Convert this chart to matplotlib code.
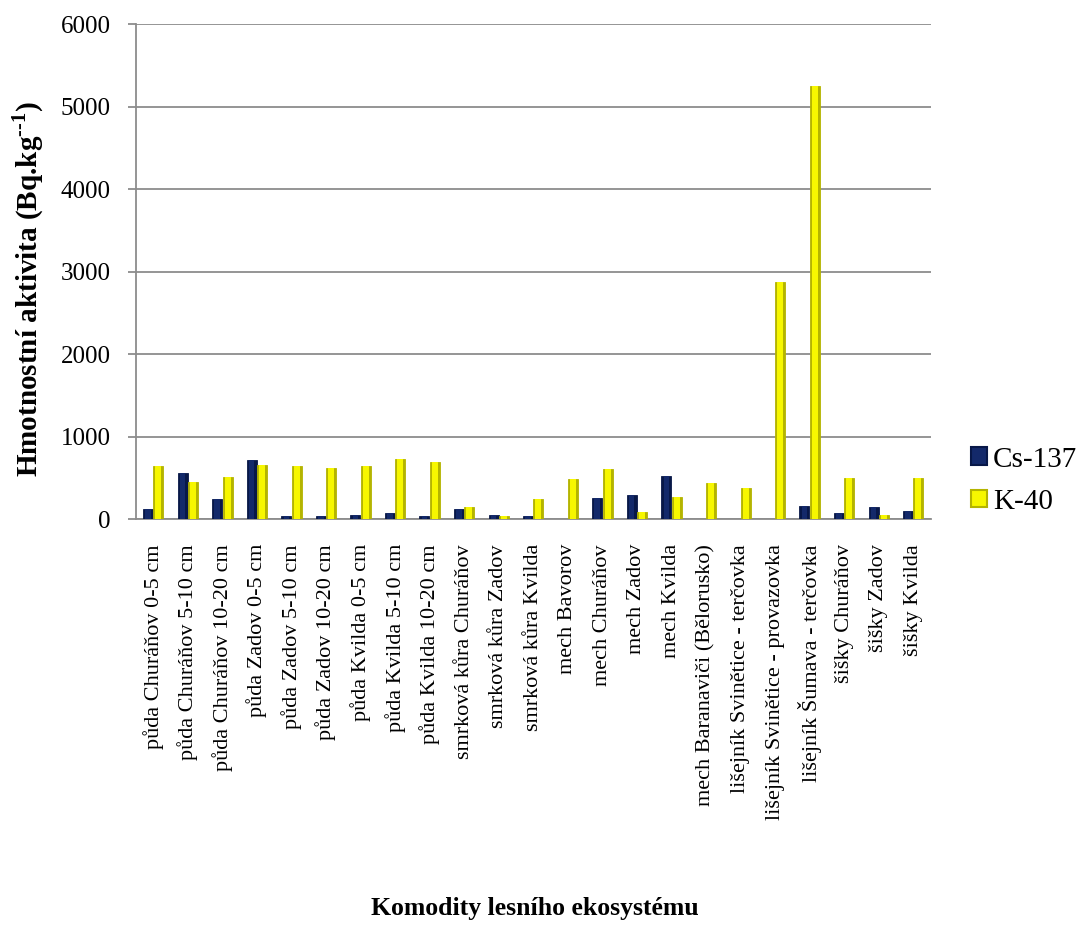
import numpy as np
import matplotlib
matplotlib.use("Agg")
import matplotlib.pyplot as plt
from matplotlib.patches import Patch

# Komodity lesního ekosystému a naměřené hmotnostní aktivity (Bq/kg)
categories = [
    "půda Churáňov 0-5 cm",
    "půda Churáňov 5-10 cm",
    "půda Churáňov 10-20 cm",
    "půda Zadov 0-5 cm",
    "půda Zadov 5-10 cm",
    "půda Zadov 10-20 cm",
    "půda Kvilda 0-5 cm",
    "půda Kvilda 5-10 cm",
    "půda Kvilda 10-20 cm",
    "smrková kůra Churáňov",
    "smrková kůra Zadov",
    "smrková kůra Kvilda",
    "mech Bavorov",
    "mech Churáňov",
    "mech Zadov",
    "mech Kvilda",
    "mech Baranaviči (Bělorusko)",
    "lišejník Svinětice - terčovka",
    "lišejník Svinětice - provazovka",
    "lišejník Šumava - terčovka",
    "šišky Churáňov",
    "šišky Zadov",
    "šišky Kvilda",
]
cs137 = [125, 560, 245, 712, 40, 36, 53, 77, 36, 125, 53, 32,
         0, 250, 287, 518, 0, 0, 0, 158, 77, 150, 93]
k40 = [644, 449, 514, 660, 644, 623, 644, 729, 692, 150, 32, 239,
       486, 611, 89, 263, 441, 377, 2870, 5255, 498, 53, 502]
series_names = ["Cs-137", "K-40"]
y_ticks = [0, 1000, 2000, 3000, 4000, 5000, 6000]

plt.rcParams["font.family"] = ["Liberation Serif", "DejaVu Serif"]
plt.rcParams["mathtext.fontset"] = "custom"
plt.rcParams["mathtext.rm"] = "Liberation Serif"
plt.rcParams["mathtext.bf"] = "Liberation Serif:bold"

fig = plt.figure(figsize=(10.81, 9.26), dpi=100)
ax = fig.add_axes([0.1258, 0.4395, 0.735, 0.5345])

x = np.arange(len(categories))
w = 0.29
off = 0.15

grid_col = "#8c8c8c"
cs_dark, cs_main = "#081848", "#13296a"
k_dark, k_main = "#b4b400", "#f7f700"

# outer bars (darker bevel edge) and inner lighter faces
ax.bar(x - off, cs137, width=w, color=cs_dark, edgecolor=cs_dark,
       linewidth=0.6, zorder=3)
ax.bar(x - off, cs137, width=w * 0.55, color=cs_main, linewidth=0, zorder=4)
ax.bar(x + off, k40, width=w, color=k_dark, edgecolor=k_dark,
       linewidth=0.6, zorder=3)
ax.bar(x + off, k40, width=w * 0.6, color=k_main, linewidth=0, zorder=4)

ax.set_xlim(-0.5, len(categories) - 0.5)
ax.set_ylim(0, 6000)
ax.set_yticks(y_ticks)
ax.set_yticklabels([str(v) for v in y_ticks], fontsize=18)
ax.yaxis.grid(True, color=grid_col, linewidth=1.3, zorder=0)
ax.set_axisbelow(True)

for s in ("top", "right"):
    ax.spines[s].set_visible(False)
for s in ("left", "bottom"):
    ax.spines[s].set_color(grid_col)
    ax.spines[s].set_linewidth(1.3)

ax.tick_params(axis="y", length=6, width=1.3, color=grid_col, pad=12)
ax.tick_params(axis="x", length=0, pad=18)
ax.set_xticks(x)
ax.set_xticklabels(categories, rotation=90, fontsize=16, ha="center", va="top")

fig.text(0.026, 1 - 289 / 926,
         "Hmotnostní aktivita (Bq.kg$^{\\mathbf{\u2010\u20101}}$)",
         fontsize=21, fontweight="bold", rotation=90,
         ha="center", va="center")

fig.text(0.495, 1 - 908 / 926, "Komodity lesního ekosystému",
         fontsize=18.5, fontweight="bold", ha="center", va="center")

handles = [Patch(facecolor=cs_main, edgecolor=cs_dark, linewidth=1.5),
           Patch(facecolor=k_main, edgecolor=k_dark, linewidth=1.5)]
fig.legend(handles, series_names, loc="upper left",
           bbox_to_anchor=(0.885, 1 - 432 / 926), frameon=False,
           fontsize=21, handlelength=0.55, handleheight=0.55,
           handletextpad=0.2, labelspacing=0.55, borderpad=0)

fig.savefig("out.png", dpi=100)
